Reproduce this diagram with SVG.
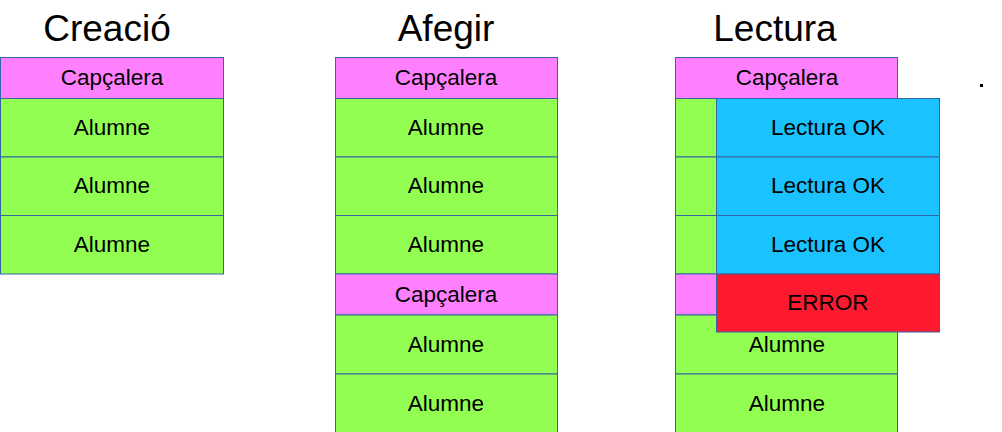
<svg xmlns="http://www.w3.org/2000/svg" width="1002" height="432" viewBox="0 0 1002 432">
<style>
.c{stroke:#3465a4;stroke-width:1}
.h{fill:#ff80ff}.a{fill:#92fe52}.b{fill:#1ac2ff}.r{fill:#fe1a2e}
text{font-family:"Liberation Sans",Arial,sans-serif;font-size:22.5px;text-anchor:middle;fill:#000}
.t{font-size:37px}
</style>
<rect width="1002" height="432" fill="#fff"/>
<g id="titles">
<text class="t" x="107" y="41">Creació</text>
<text class="t" x="446" y="41">Afegir</text>
<text class="t" x="775" y="41">Lectura</text>
</g>
<g id="creacio">
<rect class="c h" x="0.5" y="57.5" width="223" height="41"/><text x="112" y="85">Capçalera</text>
<rect class="c a" x="0.5" y="98.5" width="223" height="58.5"/><text x="112" y="135">Alumne</text>
<rect class="c a" x="0.5" y="157" width="223" height="58.5"/><text x="112" y="193">Alumne</text>
<rect class="c a" x="0.5" y="215.5" width="223" height="58.5"/><text x="112" y="252">Alumne</text>
</g>
<g id="afegir">
<rect class="c h" x="335.5" y="57.5" width="222" height="41"/><text x="446" y="85">Capçalera</text>
<rect class="c a" x="335.5" y="98.5" width="222" height="58.5"/><text x="446" y="135">Alumne</text>
<rect class="c a" x="335.5" y="157" width="222" height="58.5"/><text x="446" y="193">Alumne</text>
<rect class="c a" x="335.5" y="215.5" width="222" height="58.5"/><text x="446" y="252">Alumne</text>
<rect class="c h" x="335.5" y="274" width="222" height="41"/><text x="446" y="302">Capçalera</text>
<rect class="c a" x="335.5" y="315" width="222" height="59"/><text x="446" y="352">Alumne</text>
<rect class="c a" x="335.5" y="374" width="222" height="59"/><text x="446" y="411">Alumne</text>
</g>
<g id="lectura">
<rect class="c h" x="675.5" y="57.5" width="222" height="41"/><text x="787" y="85">Capçalera</text>
<rect class="c a" x="675.5" y="98.5" width="222" height="58.5"/>
<rect class="c a" x="675.5" y="157" width="222" height="58.5"/>
<rect class="c a" x="675.5" y="215.5" width="222" height="58.5"/>
<rect class="c h" x="675.5" y="274" width="222" height="41"/>
<rect class="c a" x="675.5" y="315" width="222" height="59"/><text x="787" y="352">Alumne</text>
<rect class="c a" x="675.5" y="374" width="222" height="59"/><text x="787" y="411">Alumne</text>
</g>
<g id="resultats">
<rect class="c b" x="716.5" y="98.5" width="223" height="58.5"/><text x="828" y="135">Lectura OK</text>
<rect class="c b" x="716.5" y="157" width="223" height="58.5"/><text x="828" y="193">Lectura OK</text>
<rect class="c b" x="716.5" y="215.5" width="223" height="58.5"/><text x="828" y="252">Lectura OK</text>
<rect class="c r" x="716.5" y="274" width="223" height="58"/><text x="828" y="310">ERROR</text>
</g>
<rect x="980" y="84" width="3" height="3" fill="#000"/>
</svg>
